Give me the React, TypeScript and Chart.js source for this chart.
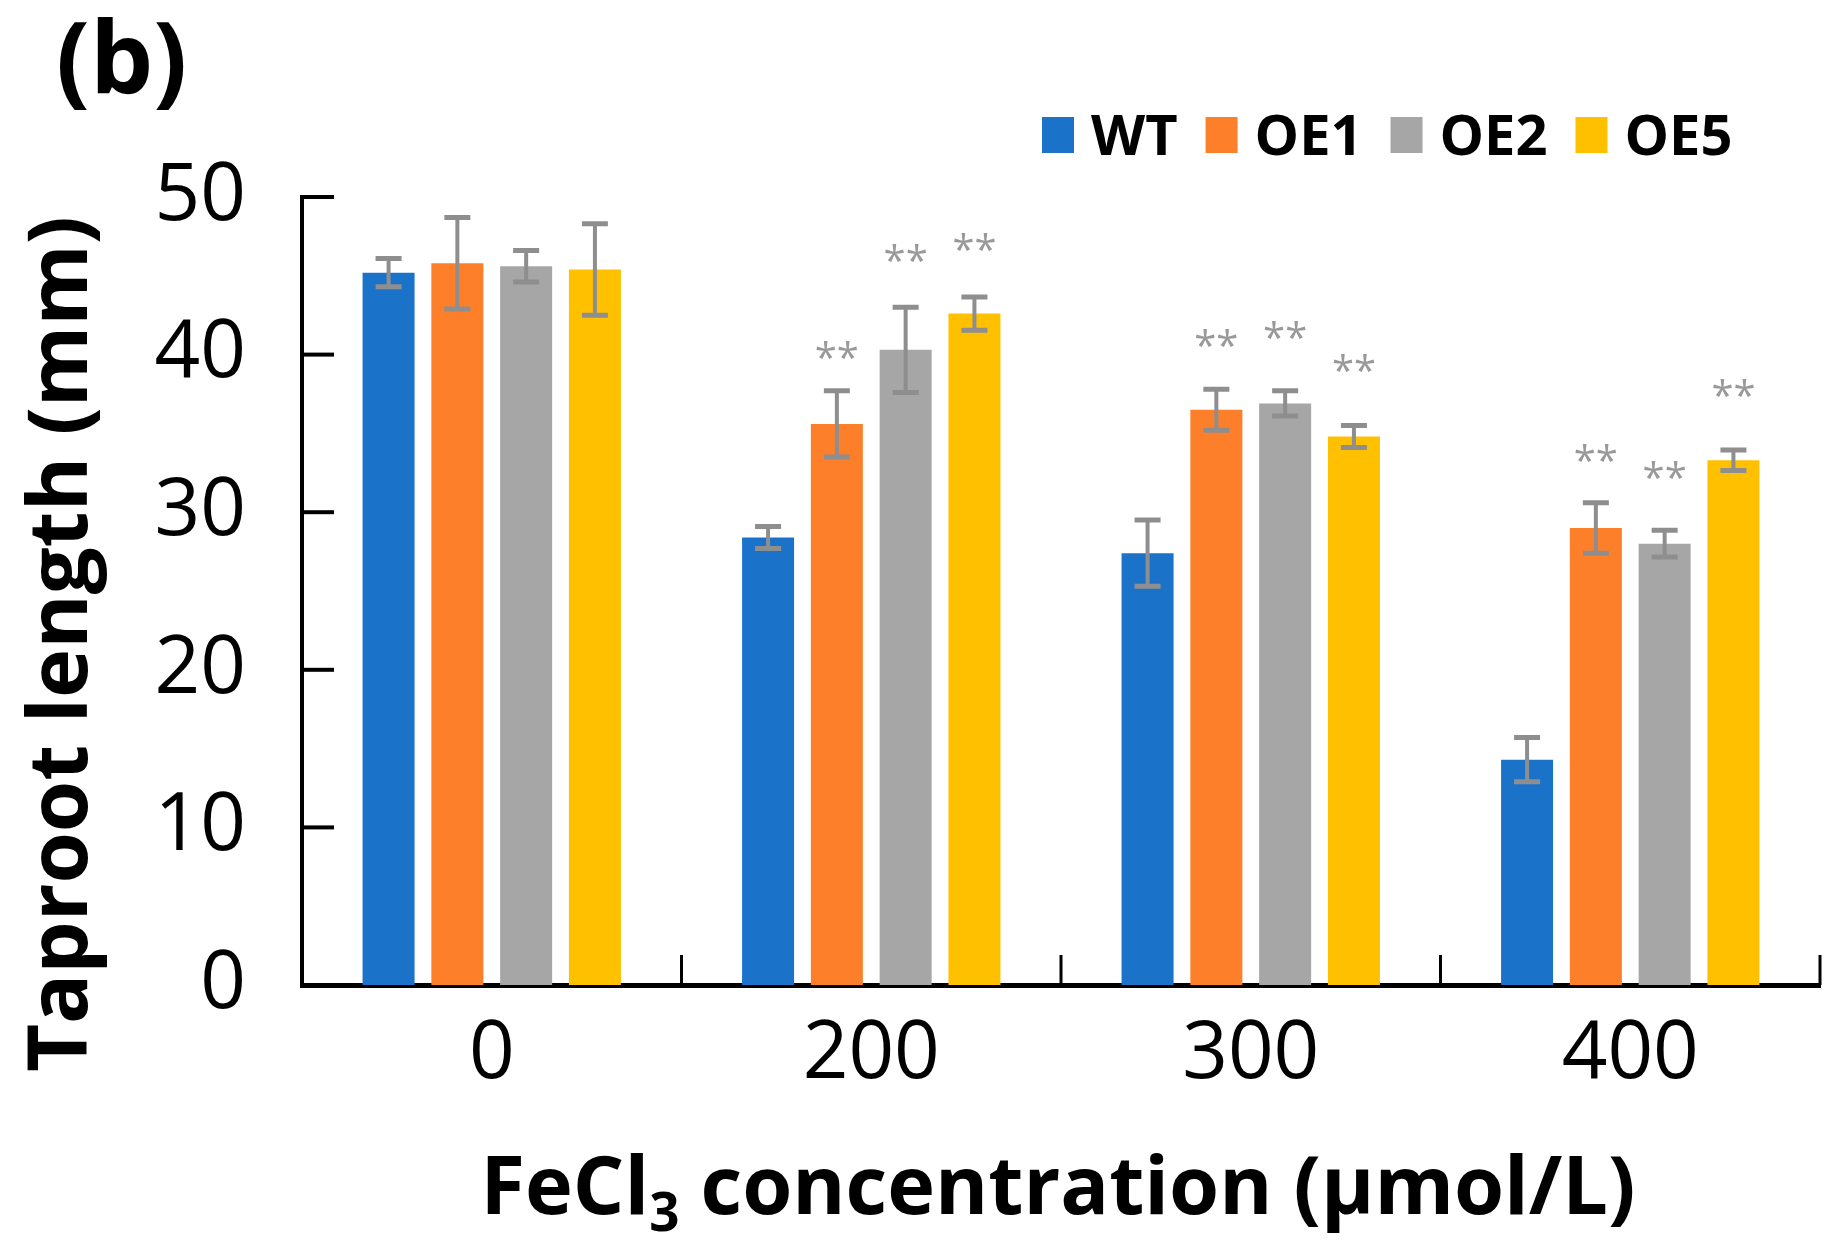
import React, { useEffect, useRef } from 'react';
import { Chart, registerables } from 'chart.js';

Chart.register(...registerables);

// ---------- data ----------
const categories = ['0', '200', '300', '400'];
const seriesNames = ['WT', 'OE1', 'OE2', 'OE5'];
const wtValues = [45.2, 28.4, 27.4, 14.3];
const oe1Values = [45.8, 35.6, 36.5, 29.0];
const oe2Values = [45.6, 40.3, 36.9, 28.0];
const oe5Values = [45.4, 42.6, 34.8, 33.3];
const wtErrors = [0.9, 0.7, 2.1, 1.4];
const oe1Errors = [2.9, 2.1, 1.3, 1.6];
const oe2Errors = [1.0, 2.7, 0.8, 0.85];
const oe5Errors = [2.9, 1.05, 0.7, 0.65];
// level (in mm) at which the "**" marks sit; null = no mark
const wtStars: (number | null)[] = [null, null, null, null];
const oe1Stars: (number | null)[] = [null, 40.4, 41.2, 33.9];
const oe2Stars: (number | null)[] = [null, 46.6, 41.7, 32.8];
const oe5Stars: (number | null)[] = [null, 47.3, 39.6, 38.0];
const starLabel = '**';
const yMin = 0;
const yMax = 50;
const yStep = 10;
const panelLabel = '(b)';
const yTitle = 'Taproot length (mm)';
const xTitleParts = ['FeCl', '3', ' concentration (µmol/L)'];

// ---------- styles ----------
const seriesColors = ['#1a73c9', '#fe7f2a', '#a6a6a6', '#ffc000'];
const errColor = '#8e8e8e';
const starColor = '#999999';
const FONT = '"Open Sans", "Noto Sans", sans-serif';

const allValues = [wtValues, oe1Values, oe2Values, oe5Values];
const allErrors = [wtErrors, oe1Errors, oe2Errors, oe5Errors];
const allStars = [wtStars, oe1Stars, oe2Stars, oe5Stars];

const overlayPlugin = {
  id: 'overlay',
  afterDatasetsDraw(chart: any) {
    const ctx = chart.ctx;
    const ys = chart.scales.y;
    ctx.save();
    chart.data.datasets.forEach((ds: any, di: number) => {
      const meta = chart.getDatasetMeta(di);
      meta.data.forEach((bar: any, i: number) => {
        const v = ds.data[i];
        const e = ds.errors[i];
        const x = bar.x;
        const yTop = ys.getPixelForValue(v + e);
        const yBot = ys.getPixelForValue(v - e);
        ctx.strokeStyle = errColor;
        ctx.lineWidth = 4;
        ctx.beginPath();
        ctx.moveTo(x, yTop);
        ctx.lineTo(x, yBot);
        ctx.stroke();
        ctx.lineWidth = 5;
        ctx.beginPath();
        ctx.moveTo(x - 13, yTop);
        ctx.lineTo(x + 13, yTop);
        ctx.moveTo(x - 13, yBot);
        ctx.lineTo(x + 13, yBot);
        ctx.stroke();
        const s = ds.stars[i];
        if (s !== null && s !== undefined) {
          ctx.fillStyle = starColor;
          ctx.font = `40px ${FONT}`;
          ctx.textAlign = 'center';
          ctx.textBaseline = 'alphabetic';
          ctx.fillText(starLabel, x, ys.getPixelForValue(s) + 24);
        }
      });
    });
    ctx.restore();
  },
  afterDraw(chart: any) {
    const ctx = chart.ctx;
    const area = chart.chartArea;
    const xs = chart.scales.x;
    const ys = chart.scales.y;
    ctx.save();
    ctx.strokeStyle = '#000';
    // y tick marks (inside)
    ctx.lineWidth = 4;
    for (let v = yMin + yStep; v <= yMax; v += yStep) {
      const py = ys.getPixelForValue(v);
      ctx.beginPath();
      ctx.moveTo(area.left, py);
      ctx.lineTo(area.left + 32, py);
      ctx.stroke();
    }
    // x boundary tick marks (inside)
    ctx.lineWidth = 3;
    for (let i = 0; i < categories.length; i++) {
      const bx = i < categories.length - 1
        ? (xs.getPixelForValue(i) + xs.getPixelForValue(i + 1)) / 2
        : area.right;
      ctx.beginPath();
      ctx.moveTo(bx, area.bottom);
      ctx.lineTo(bx, area.bottom - 30);
      ctx.stroke();
    }
    ctx.fillStyle = '#000';
    // panel label
    ctx.font = `bold 100px ${FONT}`;
    ctx.textAlign = 'left';
    ctx.textBaseline = 'alphabetic';
    ctx.fillText(panelLabel, 56, 94);
    // y title
    ctx.save();
    ctx.translate(63, 644);
    ctx.rotate(-Math.PI / 2);
    ctx.font = `bold 83px ${FONT}`;
    ctx.textAlign = 'center';
    ctx.textBaseline = 'middle';
    ctx.fillText(yTitle, 0, 0);
    ctx.restore();
    // x title with subscript
    const big = `bold 81px ${FONT}`;
    const small = `bold 53px ${FONT}`;
    ctx.font = big;
    const w0 = ctx.measureText(xTitleParts[0]).width;
    const w2 = ctx.measureText(xTitleParts[2]).width;
    ctx.font = small;
    const w1 = ctx.measureText(xTitleParts[1]).width;
    const total = w0 + w1 + w2;
    const cx = (area.left + area.right) / 2 - 3;
    let tx = cx - total / 2;
    const base = 1214;
    ctx.textAlign = 'left';
    ctx.textBaseline = 'alphabetic';
    ctx.font = big;
    ctx.fillText(xTitleParts[0], tx, base);
    tx += w0;
    ctx.font = small;
    ctx.fillText(xTitleParts[1], tx, base + 17);
    tx += w1;
    ctx.font = big;
    ctx.fillText(xTitleParts[2], tx, base);
    // legend
    let lx = 1042;
    const ly = 135;
    ctx.font = `bold 56px ${FONT}`;
    chart.data.datasets.forEach((ds: any) => {
      ctx.fillStyle = ds.backgroundColor;
      ctx.fillRect(lx, ly - 18, 32, 36);
      lx += 32 + 17;
      ctx.fillStyle = '#000';
      ctx.fillText(ds.label, lx, ly + 20);
      lx += ctx.measureText(ds.label).width + 28;
    });
    ctx.restore();
  },
};

export default function App() {
  const canvasRef = useRef<HTMLCanvasElement | null>(null);
  useEffect(() => {
    document.body.style.margin = '0';
    const canvas = canvasRef.current;
    if (!canvas) return;
    const datasets = seriesNames.map((name, k) => ({
      label: name,
      data: allValues[k],
      errors: allErrors[k],
      stars: allStars[k],
      backgroundColor: seriesColors[k],
      borderWidth: 0,
      categoryPercentage: 0.725,
      barPercentage: 0.756,
    }));
    const chart = new Chart(canvas, {
      type: 'bar',
      data: { labels: categories, datasets: datasets as any },
      options: {
        responsive: false,
        devicePixelRatio: 1,
        animation: false,
        layout: { padding: { top: 197, right: 19, left: 0, bottom: 0 } },
        plugins: {
          legend: { display: false },
          tooltip: { enabled: false },
          title: { display: false },
        },
        scales: {
          x: {
            type: 'category',
            offset: true,
            grid: { display: false, drawTicks: false },
            border: { display: true, color: '#000', width: 5 },
            ticks: {
              color: '#000',
              padding: 22,
              font: { family: FONT, size: 80 },
            },
            afterFit: (s: any) => { s.height = 263; },
          },
          y: {
            min: yMin,
            max: yMax,
            grid: { display: false, drawTicks: false },
            border: { display: true, color: '#000', width: 4 },
            ticks: {
              stepSize: yStep,
              color: '#000',
              padding: 56,
              font: { family: FONT, size: 80 },
            },
            afterFit: (s: any) => { s.width = 302; },
          },
        },
      },
      plugins: [overlayPlugin],
    });
    return () => chart.destroy();
  }, []);
  return (
    <div style={{ width: 1839, height: 1248, background: '#fff' }}>
      <canvas ref={canvasRef} width={1839} height={1248} />
    </div>
  );
}
